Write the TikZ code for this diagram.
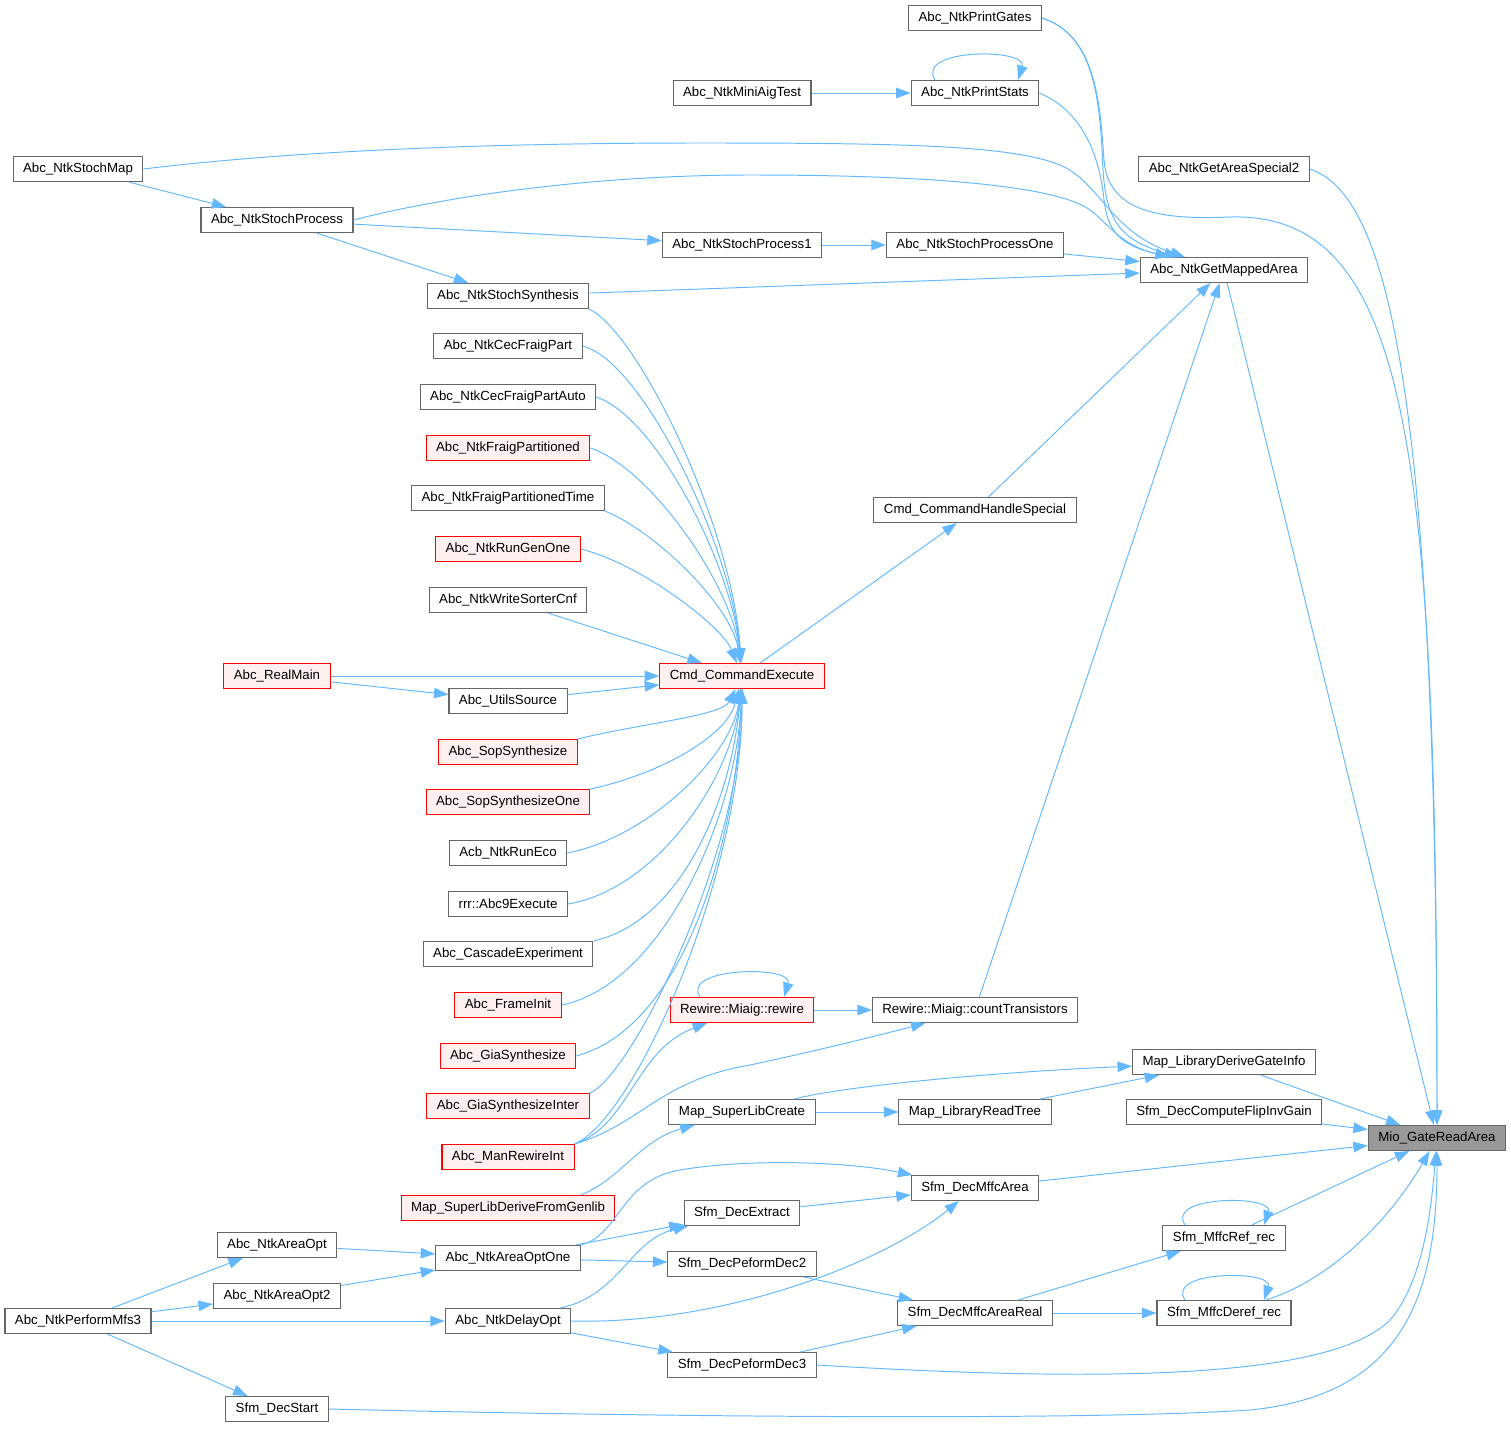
\documentclass[tikz,border=0pt]{standalone}
\usepackage{fontspec}
\setmainfont{Liberation Sans}
\usetikzlibrary{arrows.meta}
\definecolor{edgeblue}{HTML}{63B8FF}
\definecolor{boxgray}{HTML}{666666}
\definecolor{redfill}{HTML}{FFF0F0}
\definecolor{mainfill}{HTML}{999999}
\begin{document}
\begin{tikzpicture}[x=0.02cm,y=-0.02cm,
    fn/.style={rectangle, draw=boxgray, fill=white, line width=0.6pt,
      minimum height=0.5cm, inner xsep=0.2cm, inner ysep=0pt,
      font=\fontsize{7.55}{9}\selectfont},
    redfn/.style={fn, draw=red, fill=redfill},
    mainfn/.style={fn, fill=mainfill},
    call/.style={draw=edgeblue, line width=0.55pt,
      -{Triangle[length=0.29cm,width=0.21cm]}}]

    \useasboundingbox (0,0) rectangle (1511,1437);

    % top part
    \node[fn] (pg)  at (975,18)   {Abc\_NtkPrintGates};
    \node[fn] (mat) at (742,93)   {Abc\_NtkMiniAigTest};
    \node[fn] (ps)  at (975,93)   {Abc\_NtkPrintStats};
    \node[fn] (gas) at (1224,169) {Abc\_NtkGetAreaSpecial2};
    \node[fn] (sm)  at (78,169)   {Abc\_NtkStochMap};
    \node[fn] (sp)  at (277,220)  {Abc\_NtkStochProcess};
    \node[fn] (sp1) at (742,245)  {Abc\_NtkStochProcess1};
    \node[fn] (spo) at (975,245)  {Abc\_NtkStochProcessOne};
    \node[fn] (gma) at (1224,270) {Abc\_NtkGetMappedArea};
    \node[fn] (ss)  at (508,296)  {Abc\_NtkStochSynthesis};

    % callers of Cmd_CommandExecute
    \node[fn]    (cfp)  at (508,346)  {Abc\_NtkCecFraigPart};
    \node[fn]    (cfpa) at (508,397)  {Abc\_NtkCecFraigPartAuto};
    \node[redfn] (fp)   at (508,448)  {Abc\_NtkFraigPartitioned};
    \node[fn]    (fpt)  at (508,498)  {Abc\_NtkFraigPartitionedTime};
    \node[redfn] (rgo)  at (508,549)  {Abc\_NtkRunGenOne};
    \node[fn]    (wsc)  at (508,600)  {Abc\_NtkWriteSorterCnf};
    \node[fn]    (chs)  at (975,510)  {Cmd\_CommandHandleSpecial};
    \node[redfn] (rm)   at (277,676)  {Abc\_RealMain};
    \node[redfn] (ce)   at (742,676)  {Cmd\_CommandExecute};
    \node[fn]    (us)   at (508,701)  {Abc\_UtilsSource};
    \node[redfn] (sop)  at (508,752)  {Abc\_SopSynthesize};
    \node[redfn] (sopo) at (508,802)  {Abc\_SopSynthesizeOne};
    \node[fn]    (eco)  at (508,853)  {Acb\_NtkRunEco};
    \node[fn]    (rrr)  at (508,904)  {rrr::Abc9Execute};
    \node[fn]    (cas)  at (508,954)  {Abc\_CascadeExperiment};
    \node[redfn] (fi)   at (508,1005) {Abc\_FrameInit};
    \node[redfn] (gs)   at (508,1056) {Abc\_GiaSynthesize};
    \node[redfn] (gsi)  at (508,1106) {Abc\_GiaSynthesizeInter};
    \node[redfn] (mri)  at (508,1157) {Abc\_ManRewireInt};

    % lower part
    \node[redfn]  (rw)   at (742,1010)  {Rewire::Miaig::rewire};
    \node[fn]     (ct)   at (975,1010)  {Rewire::Miaig::countTransistors};
    \node[fn]     (dgi)  at (1224,1062) {Map\_LibraryDeriveGateInfo};
    \node[fn]     (slc)  at (742,1112)  {Map\_SuperLibCreate};
    \node[fn]     (lrt)  at (975,1112)  {Map\_LibraryReadTree};
    \node[fn]     (fig)  at (1224,1112) {Sfm\_DecComputeFlipInvGain};
    \node[mainfn] (mio)  at (1437,1138) {Mio\_GateReadArea};
    \node[fn]     (dma)  at (975,1188)  {Sfm\_DecMffcArea};
    \node[redfn]  (sldg) at (508,1208)  {Map\_SuperLibDeriveFromGenlib};
    \node[fn]     (dex)  at (742,1213)  {Sfm\_DecExtract};
    \node[fn]     (ao)   at (277,1245)  {Abc\_NtkAreaOpt};
    \node[fn]     (aoo)  at (508,1258)  {Abc\_NtkAreaOptOne};
    \node[fn]     (mref) at (1224,1238) {Sfm\_MffcRef\_rec};
    \node[fn]     (pd2)  at (742,1264)  {Sfm\_DecPeformDec2};
    \node[fn]     (ao2)  at (277,1296)  {Abc\_NtkAreaOpt2};
    \node[fn]     (mfs)  at (78,1321)   {Abc\_NtkPerformMfs3};
    \node[fn]     (dop)  at (508,1321)  {Abc\_NtkDelayOpt};
    \node[fn]     (dmar) at (975,1313)  {Sfm\_DecMffcAreaReal};
    \node[fn]     (mdr)  at (1224,1313) {Sfm\_MffcDeref\_rec};
    \node[fn]     (pd3)  at (742,1365)  {Sfm\_DecPeformDec3};
    \node[fn]     (dst)  at (277,1409)  {Sfm\_DecStart};

    % edges into Abc_NtkGetMappedArea and Mio_GateReadArea from the top
    \draw[call] (pg.east) .. controls (1095,35) and (1100,100) .. (1103,170)
                     .. controls (1106,220) and (1120,240) .. (gma);
    \draw[call] (pg.east) .. controls (1095,35) and (1100,100) .. (1104,160)
                     .. controls (1108,212) and (1160,220) .. (1230,217)
                     .. controls (1410,212) and (1437,450) .. (mio);
    \draw[call] (gas.east) .. controls (1390,195) and (1437,400) .. (mio);
    \draw[call] (mat) -- (ps);
    \draw[call] ([xshift=-0.8cm]ps.north) .. controls +(-20,-32) and +(10,-32) .. ([xshift=0.86cm]ps.north);
    \draw[call] (ps.east) .. controls (1085,112) and (1100,160) .. (1104,200)
                     .. controls (1108,232) and (1120,245) .. (gma);
    \draw[call] (sm.east) .. controls (300,150) and (500,143) .. (700,143)
                     .. controls (900,143) and (1010,145) .. (1060,165)
                     .. controls (1100,182) and (1110,232) .. (gma);
    \draw[call] (sm) -- (sp);
    \draw[call] (sp.east) .. controls (450,195) and (600,175) .. (750,175)
                     .. controls (950,175) and (1060,188) .. (1090,210)
                     .. controls (1110,225) and (1120,245) .. (gma);
    \draw[call] (sp) -- (sp1);
    \draw[call] (sp) -- (ss);
    \draw[call] (sp1) -- (spo);
    \draw[call] (spo) -- (gma);
    \draw[call] (ss) -- (gma);
    \draw[call] (gma) -- (mio);
    \draw[call] (chs) -- (gma);
    \draw[call] (ct) -- (gma);
    \draw[call] (ce) -- (chs);

    % edges into Cmd_CommandExecute
    \draw[call] (ss.south east) .. controls +(50,25) and +(-10,-150) .. (ce);
    \draw[call] (cfp.east)  .. controls +(60,15)  and +(-10,-130) .. (ce);
    \draw[call] (cfpa.east) .. controls +(60,20)  and +(-10,-110) .. (ce);
    \draw[call] (fp.east)   .. controls +(60,20)  and +(-10,-90)  .. (ce);
    \draw[call] (fpt.south east) .. controls +(50,20) and +(-10,-70) .. (ce);
    \draw[call] (rgo.east)  .. controls +(60,15)  and +(-20,-50)  .. (ce);
    \draw[call] (wsc) -- (ce);
    \draw[call] (rm) -- (ce);
    \draw[call] (rm) -- (us);
    \draw[call] (us) -- (ce);
    \draw[call] (sop.north east)  .. controls +(60,-15) and +(-20,40)  .. (ce);
    \draw[call] (sopo.north east) .. controls +(70,-15) and +(-15,60)  .. (ce);
    \draw[call] (eco.east)  .. controls +(80,-15) and +(-10,80)  .. (ce);
    \draw[call] (rrr.east)  .. controls +(90,-15) and +(-10,100) .. (ce);
    \draw[call] (cas.north east) .. controls +(90,-20) and +(-10,120) .. (ce);
    \draw[call] (fi.east)   .. controls +(100,-20) and +(-5,140) .. (ce);
    \draw[call] (gs.east)   .. controls +(110,-30) and +(-5,160) .. (ce);
    \draw[call] (gsi.north east) .. controls +(40,-15) and +(0,180) .. (ce);
    \draw[call] (mri.north east) .. controls +(60,-25) and +(0,200) .. (ce);

    % Rewire and Map
    \draw[call] ([xshift=-0.84cm]rw.north) .. controls +(-20,-30) and +(10,-32) .. ([xshift=0.84cm]rw.north);
    \draw[call] (rw) -- (ct);
    \draw[call] (mri.north east) .. controls (630,1125) and (635,1050) .. (rw);
    \draw[call] (mri.north east) .. controls (640,1125) and (660,1080) .. (750,1065)
                      .. controls (820,1050) and (880,1035) .. (ct);
    \draw[call] (dgi) -- (mio);
    \draw[call] (slc) .. controls (850,1085) and (1000,1072) .. (dgi);
    \draw[call] (slc) -- (lrt);
    \draw[call] (lrt) -- (dgi);
    \draw[call] (fig) -- (mio);
    \draw[call] ([xshift=1.45cm]sldg.north) .. controls (620,1180) and (640,1140) .. (slc);

    % Sfm part
    \draw[call] (dma) -- (mio);
    \draw[call] (dex) -- (dma);
    \draw[call] (aoo.north east) .. controls (620,1235) and (620,1180) .. (680,1170)
                      .. controls (750,1158) and (850,1162) .. (dma);
    \draw[call] (aoo) -- (dex);
    \draw[call] (aoo) -- (pd2);
    \draw[call] (ao) -- (aoo);
    \draw[call] (ao2) -- (aoo);
    \draw[call] (mfs) -- (ao);
    \draw[call] (mfs) -- (ao2);
    \draw[call] (mfs) -- (dop);
    \draw[call] (mfs) -- (dst);
    \draw[call] ([xshift=1.05cm]dop.north) .. controls (620,1295) and (630,1240) .. (dex);
    \draw[call] (dop.east) .. controls (720,1325) and (880,1265) .. (dma);
    \draw[call] (dop) -- (pd3);
    \draw[call] (pd2) -- (dmar);
    \draw[call] (dmar) -- (mref);
    \draw[call] (dmar) -- (mdr);
    \draw[call] ([xshift=-0.78cm]mref.north) .. controls +(-20,-30) and +(10,-30) .. ([xshift=0.8cm]mref.north);
    \draw[call] (mref) -- (mio);
    \draw[call] ([xshift=-0.78cm]mdr.north) .. controls +(-20,-30) and +(10,-30) .. ([xshift=0.8cm]mdr.north);
    \draw[call] (mdr) .. controls (1330,1280) and (1390,1220) .. (mio);
    \draw[call] (pd3) -- (dmar);
    \draw[call] (pd3.east) .. controls (1100,1382) and (1330,1380) .. (1390,1320)
                      .. controls (1425,1280) and (1432,1200) .. (mio);
    \draw[call] (dst.east) .. controls (700,1418) and (1100,1420) .. (1250,1410)
                      .. controls (1400,1395) and (1437,1300) .. (mio);

  \end{tikzpicture}
\end{document}
